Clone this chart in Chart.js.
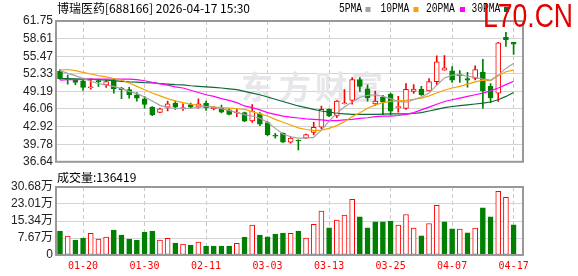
<!DOCTYPE html>
<html>
<head>
<meta charset="utf-8">
<title>博瑞医药 日K</title>
<script src="https://cdn.jsdelivr.net/npm/chart.js@4.4.1/dist/chart.umd.min.js"></script>
<style>
  body { margin: 0; background: #fff; }
  #kline { position: absolute; left: 0; top: 0; }
  #volumen { position: absolute; left: 0; top: 172px; }
</style>
</head>
<body>
<canvas id="kline" width="578" height="172"></canvas>
<canvas id="volumen" width="578" height="104"></canvas>
<script>
// Handelstage (x-Achse)
const datum = ["01-15", "01-16", "01-19", "01-20", "01-21", "01-22", "01-23", "01-26", "01-27", "01-28",
  "01-29", "01-30", "02-02", "02-03", "02-04", "02-05", "02-06", "02-09", "02-10", "02-11",
  "02-12", "02-13", "02-24", "02-25", "02-26", "02-27", "03-02", "03-03", "03-04", "03-05",
  "03-06", "03-09", "03-10", "03-11", "03-12", "03-13", "03-16", "03-17", "03-18", "03-19",
  "03-20", "03-23", "03-24", "03-25", "03-26", "03-27", "03-30", "03-31", "04-01", "04-02",
  "04-03", "04-07", "04-08", "04-09", "04-10", "04-13", "04-14", "04-15", "04-16", "04-17"];

// Datumsbeschriftungen unten
const datumLabels = ["01-20", "01-30", "02-11", "03-03", "03-13", "03-25", "04-07", "04-17"];

// Kerzen: Eröffnung, Hoch, Tief, Schluss
const eroeffnung = [52.8, 51.5, 51.35, 51.1, 49.85, 51.05, 50.36, 51.06, 49.8, 49.5,
  48.6, 47.85, 46.4, 45.45, 46.4, 47.1, 46.1, 46.86, 46.4, 47.1,
  46.1, 46.3, 45.9, 45.35, 45.4, 43.95, 45.2, 43.65, 41.28, 41.7,
  40.15, 40.5, 40.85, 41.9, 42.8, 46.0, 44.8, 47.0, 47.6, 51.3,
  49.66, 46.98, 48.15, 48.73, 46.3, 46.15, 49.2, 49.6, 49.3, 50.95,
  53.0, 52.88, 52.05, 51.5, 51.5, 52.6, 50.08, 48.9, 58.84, 57.96];
const hoch = [53.1, 52.1, 51.4, 51.5, 51.5, 51.4, 51.3, 51.36, 49.9, 49.9,
  49.0, 48.3, 46.5, 46.2, 47.45, 47.45, 46.98, 47.1, 47.85, 47.45,
  46.5, 46.75, 46.1, 46.0, 45.5, 46.86, 45.4, 43.8, 41.7, 41.8,
  41.1, 40.55, 41.6, 43.7, 46.57, 46.1, 47.55, 49.5, 51.66, 51.66,
  50.36, 49.25, 48.5, 48.9, 48.3, 50.6, 50.4, 50.08, 51.5, 55.55,
  55.6, 53.6, 52.9, 52.6, 53.76, 54.92, 50.6, 57.96, 59.75, 57.96];
const tief = [51.35, 50.5, 50.4, 49.35, 49.6, 50.1, 49.9, 48.9, 47.9, 48.0,
  47.45, 46.2, 44.85, 45.4, 45.7, 46.0, 45.8, 46.2, 46.2, 45.8,
  45.9, 45.35, 45.0, 44.7, 43.8, 43.65, 43.1, 41.3, 40.85, 40.1,
  39.97, 38.75, 40.8, 41.45, 42.5, 44.7, 44.5, 46.98, 46.9, 49.2,
  47.45, 46.7, 45.05, 45.0, 45.5, 46.0, 48.85, 48.5, 49.3, 50.3,
  52.99, 50.8, 50.8, 49.96, 51.24, 46.2, 47.2, 47.4, 57.2, 55.8];
const schluss = [51.4, 51.3, 50.8, 49.9, 49.95, 50.95, 50.95, 49.65, 49.5, 48.6,
  48.0, 46.86, 45.0, 46.1, 46.98, 46.4, 46.3, 46.4, 46.98, 46.3,
  46.4, 45.5, 45.1, 45.45, 43.9, 45.7, 43.35, 41.5, 41.2, 40.15,
  40.85, 40.35, 41.5, 42.8, 46.0, 44.8, 47.45, 47.15, 51.3, 50.08,
  48.03, 47.45, 47.3, 45.65, 46.4, 49.55, 49.6, 48.6, 50.95, 54.46,
  53.4, 51.2, 52.0, 51.2, 53.1, 49.3, 48.03, 57.85, 58.42, 57.6];

// Gleitende Durchschnitte
const ma5 = [52.9, 52.4, 52.0, 51.5, 51.0, 50.6, 50.3, 50.1, 49.7, 49.2,
  48.8, 48.2, 47.5, 46.7, 46.3, 46.15, 46.1, 46.15, 46.4, 46.5,
  46.4, 46.1, 45.8, 45.4, 45.05, 44.8, 44.4, 43.7, 42.6, 41.6,
  41.1, 40.85, 40.85, 41.0, 42.3, 43.9, 45.3, 46.4, 47.3, 48.1,
  48.5, 48.6, 48.3, 47.9, 47.4, 47.3, 47.7, 48.2, 48.9, 50.3,
  51.6, 52.1, 52.2, 51.9, 51.7, 51.4, 51.2, 52.1, 53.3, 54.2];
const ma10 = [53.0, 53.1, 52.9, 52.6, 52.3, 52.0, 51.8, 51.5, 51.2, 50.7,
  50.1, 49.5, 48.9, 48.4, 47.9, 47.5, 47.2, 46.9, 46.7, 46.5,
  46.4, 46.3, 46.2, 46.1, 46.0, 45.6, 45.2, 44.8, 44.2, 43.7,
  43.2, 42.7, 42.4, 42.2, 42.3, 42.6, 43.1, 43.8, 44.7, 45.4,
  46.2, 46.8, 47.2, 47.4, 47.5, 47.6, 47.8, 48.0, 48.4, 48.9,
  49.4, 49.8, 50.1, 50.5, 50.9, 51.2, 51.1, 52.0, 52.7, 53.0];
const ma20 = [51.2, 51.3, 51.3, 51.35, 51.4, 51.4, 51.4, 51.4, 51.4, 51.4,
  51.3, 51.1, 50.8, 50.55, 50.3, 50.0, 49.8, 49.4, 49.0, 48.6,
  48.3, 47.9, 47.6, 47.2, 46.6, 46.3, 45.9, 45.4, 45.1, 44.8,
  44.6, 44.45, 44.3, 44.2, 44.1, 44.0, 44.0, 44.1, 44.2, 44.4,
  44.5, 44.7, 44.8, 44.8, 44.9, 45.1, 45.4, 45.9, 46.4, 46.9,
  47.4, 47.7, 48.0, 48.3, 48.6, 48.9, 49.3, 49.8, 50.4, 51.0];
const ma30 = [51.5, 51.5, 51.45, 51.4, 51.35, 51.3, 51.2, 51.1, 51.0, 50.9,
  50.85, 50.75, 50.7, 50.6, 50.5, 50.4, 50.35, 50.2, 50.1, 50.0,
  49.9, 49.8, 49.65, 49.5, 49.2, 48.9, 48.6, 48.2, 47.8, 47.4,
  47.0, 46.6, 46.3, 46.0, 45.7, 45.5, 45.3, 45.2, 45.1, 45.1,
  45.1, 45.1, 45.15, 45.2, 45.2, 45.2, 45.25, 45.4, 45.7, 46.0,
  46.3, 46.5, 46.65, 46.8, 46.95, 47.1, 47.3, 47.7, 48.3, 49.0];

// Volumen in 万, 1 = rot (hohl), 0 = grün
const volumen = [10.78, 8.54, 6.74, 7.64, 9.73, 7.19, 8.09, 11.23, 8.98, 7.19,
  6.74, 10.33, 10.78, 6.74, 7.49, 5.39, 4.94, 4.49, 5.84, 4.04,
  4.04, 4.04, 4.04, 5.24, 8.09, 13.5, 8.98, 8.2, 9.43, 9.88,
  9.73, 10.78, 7.64, 13.79, 19.77, 12.28, 15.72, 17.97, 25.16, 17.22,
  12.28, 14.97, 14.97, 15.27, 13.48, 18.27, 12.13, 8.68, 14.22, 22.46,
  14.97, 11.83, 11.68, 10.03, 12.13, 21.26, 17.22, 28.75, 26.06, 13.64];
const volumenRot = [0, 1, 0, 0, 1, 1, 1, 0, 0, 0,
  0, 0, 0, 1, 1, 0, 1, 0, 1, 0,
  0, 0, 0, 1, 0, 1, 0, 0, 0, 0,
  1, 0, 1, 1, 1, 0, 1, 1, 1, 0,
  0, 0, 0, 0, 1, 1, 1, 0, 1, 1,
  0, 0, 1, 0, 1, 0, 0, 1, 1, 0];

// Achsenbeschriftungen
const preisTicks = [36.64, 39.78, 42.92, 46.06, 49.19, 52.33, 55.47, 58.61, 61.75];
const volumenTicks = [0, 7.67, 15.34, 23.01, 30.68];
const volumenTickLabels = ["0", "7.67万", "15.34万", "23.01万", "30.68万"];

const titel = "博瑞医药[688166] 2026-04-17 15:30";
const volumenTitel = "成交量:136419";

const rot = "#ff0000";
const gruen = "#008000";

function punkte(werte) {
  return werte.map(function (wert, i) {
    return { x: i, y: wert };
  });
}

// Kerzen zusammenbauen
let kerzenKoerper = [];
let kerzenDocht = [];
let koerperFarbe = [];
let kerzenFarbe = [];
for (let i = 0; i < datum.length; i++) {
  let steigt = schluss[i] >= eroeffnung[i];
  kerzenKoerper.push({ x: i, y: [eroeffnung[i], schluss[i]] });
  kerzenDocht.push({ x: i, y: [tief[i], hoch[i]] });
  koerperFarbe.push(steigt ? "#ffffff" : gruen);
  kerzenFarbe.push(steigt ? rot : gruen);
}

let volFarbe = volumenRot.map(r => (r ? "#ffffff" : gruen));
let volRand = volumenRot.map(r => (r ? rot : gruen));

const labelIndex = datumLabels.map(d => datum.indexOf(d));

// gemeinsame x-Achse für beide Diagramme
function xAchse(mitLabels) {
  return {
    type: "linear",
    min: -0.52,
    max: 60.22,
    offset: false,
    afterBuildTicks: function (s) {
      s.ticks = labelIndex.map(v => ({ value: v }));
    },
    afterFit: function (s) {
      s.height = mitLabels ? 21 : 0;
    },
    ticks: {
      display: mitLabels,
      autoSkip: false,
      maxRotation: 0,
      padding: 5,
      color: rot,
      font: { family: "DejaVu Sans Mono", size: 10 },
      callback: v => datum[v],
    },
    grid: { color: "#c8c8c8", drawTicks: false, offset: false },
    border: { display: false, dash: [4, 3] },
  };
}

// Rahmen um die Zeichenfläche
const rahmen = {
  id: "rahmen",
  afterDraw(chart) {
    const a = chart.chartArea;
    const ctx = chart.ctx;
    ctx.save();
    ctx.strokeStyle = "#999999";
    ctx.lineWidth = 2;
    ctx.strokeRect(a.left, a.top, a.right - a.left, a.bottom - a.top);
    ctx.restore();
  },
};

// Wasserzeichen hinter den Kerzen
const wasserzeichen = {
  id: "wasserzeichen",
  beforeDatasetsDraw(chart) {
    const ctx = chart.ctx;
    ctx.save();
    ctx.fillStyle = "#e7e7eb";
    ctx.font = 'bold 32px "Noto Sans CJK SC"';
    ctx.textAlign = "center";
    ctx.textBaseline = "middle";
    const zeichen = ["东", "方", "财", "富"];
    const xs = [257, 295, 331, 367];
    zeichen.forEach((z, i) => ctx.fillText(z, xs[i], 87));
    ctx.restore();
  },
};

// Titel, Legende und roter Schriftzug
const beschriftung = {
  id: "beschriftung",
  afterDraw(chart) {
    const ctx = chart.ctx;
    ctx.save();
    ctx.fillStyle = "#000";
    ctx.textBaseline = "middle";
    ctx.font = '12px "Noto Sans CJK SC"';
    ctx.fillText(titel, 57, 8.5);

    const legende = [
      { t: "5PMA", x: 339, q: 365.5, c: "#a3a3a3" },
      { t: "10PMA", x: 380.5, q: 413.5, c: "#f5a300" },
      { t: "20PMA", x: 426, q: 460, c: "#ff00ff" },
      { t: "30PMA", x: 471.5, q: 504, c: "#0b6b36" },
    ];
    ctx.font = '12px "Liberation Mono"';
    legende.forEach(function (l) {
      ctx.save();
      ctx.translate(l.x, 9);
      ctx.scale(0.8, 1);
      ctx.fillStyle = "#000";
      ctx.fillText(l.t, 0, 0);
      ctx.restore();
      ctx.fillStyle = l.c;
      ctx.fillRect(l.q, 7, 5, 5);
    });

    ctx.font = '33px "Liberation Sans"';
    ctx.textBaseline = "alphabetic";
    let breite = ctx.measureText("L70.CN").width;
    ctx.translate(483, 26.7);
    ctx.scale(90 / breite, 1);
    ctx.fillStyle = "#e60000";
    ctx.fillText("L70.CN", 0, 0);
    ctx.restore();
  },
};

const volumenBeschriftung = {
  id: "volumenBeschriftung",
  afterDraw(chart) {
    const ctx = chart.ctx;
    ctx.save();
    ctx.fillStyle = "#000";
    ctx.textBaseline = "middle";
    ctx.font = '12px "Noto Sans CJK SC"';
    ctx.fillText(volumenTitel, 57, 5.5);
    ctx.restore();
  },
};

const ohneExtras = { legend: { display: false }, tooltip: { enabled: false } };

// K-Linie
const kChart = new Chart(document.querySelector("#kline"), {
  type: "bar",
  data: {
    datasets: [
      { type: "line", label: "5PMA", data: punkte(ma5), borderColor: "#a3a3a3", borderWidth: 1.2, pointRadius: 0, order: 1 },
      { type: "line", label: "10PMA", data: punkte(ma10), borderColor: "#f5a300", borderWidth: 1.2, pointRadius: 0, order: 1 },
      { type: "line", label: "20PMA", data: punkte(ma20), borderColor: "#ff00ff", borderWidth: 1.2, pointRadius: 0, order: 1 },
      { type: "line", label: "30PMA", data: punkte(ma30), borderColor: "#0b6b36", borderWidth: 1.2, pointRadius: 0, order: 1 },
      {
        label: "Körper",
        data: kerzenKoerper,
        backgroundColor: koerperFarbe,
        borderColor: kerzenFarbe,
        borderWidth: 1,
        borderSkipped: false,
        barThickness: 5,
        minBarLength: 1,
        grouped: false,
        order: 2,
      },
      {
        label: "Docht",
        data: kerzenDocht,
        backgroundColor: kerzenFarbe,
        borderWidth: 0,
        barThickness: 1,
        grouped: false,
        order: 3,
      },
    ],
  },
  options: {
    responsive: false,
    animation: false,
    layout: { padding: { left: 0, right: 55, top: 21, bottom: 7 } },
    plugins: ohneExtras,
    scales: {
      x: xAchse(false),
      y: {
        min: 36.64,
        max: 61.75,
        beginAtZero: false,
        afterBuildTicks: s => {
          s.ticks = preisTicks.map(v => ({ value: v }));
        },
        afterFit: s => {
          s.width = 56;
        },
        ticks: {
          autoSkip: false,
          callback: v => v.toFixed(2),
          color: "#222",
          font: { family: "Liberation Sans", size: 12 },
          padding: 3,
        },
        grid: { color: "#d4d4d4", drawTicks: false },
        border: { display: false },
      },
    },
  },
  plugins: [wasserzeichen, rahmen, beschriftung],
});

// Volumen
const vChart = new Chart(document.querySelector("#volumen"), {
  type: "bar",
  data: {
    datasets: [
      {
        label: "成交量",
        data: punkte(volumen),
        backgroundColor: volFarbe,
        borderColor: volRand,
        borderWidth: 1,
        borderSkipped: false,
        barThickness: 5,
        grouped: false,
      },
    ],
  },
  options: {
    responsive: false,
    animation: false,
    layout: { padding: { left: 0, right: 55, top: 15, bottom: 0 } },
    plugins: ohneExtras,
    scales: {
      x: xAchse(true),
      y: {
        min: 0,
        max: 30.68,
        afterBuildTicks: s => {
          s.ticks = volumenTicks.map(v => ({ value: v }));
        },
        afterFit: s => {
          s.width = 56;
        },
        ticks: {
          autoSkip: false,
          callback: (v, i) => volumenTickLabels[i],
          color: "#222",
          font: { family: "Liberation Sans, Noto Sans CJK SC", size: 12 },
          padding: 3,
        },
        grid: { color: "#d4d4d4", drawTicks: false },
        border: { display: false },
      },
    },
  },
  plugins: [rahmen, volumenBeschriftung],
});
</script>
</body>
</html>
